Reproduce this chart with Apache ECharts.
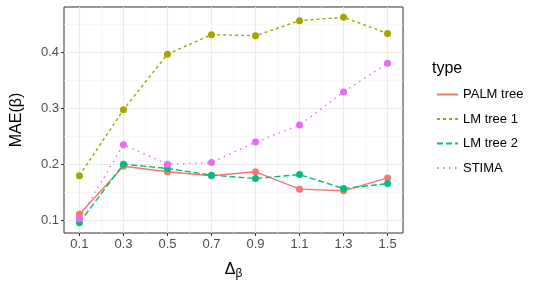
<!DOCTYPE html>
<html><head><meta charset="utf-8">
<script src="https://cdn.jsdelivr.net/npm/echarts@6/dist/echarts.min.js"></script>
<style>html,body{margin:0;padding:0;background:#fff}#c{width:540px;height:291px}</style>
</head><body><div id="c"></div>
<script>
var deltas = [0.1, 0.3, 0.5, 0.7, 0.9, 1.1, 1.3, 1.5];
var palmTree = [0.110, 0.196, 0.186, 0.179, 0.186, 0.155, 0.152, 0.175];
var lmTree1  = [0.179, 0.297, 0.396, 0.431, 0.429, 0.456, 0.462, 0.433];
var lmTree2  = [0.095, 0.1995, 0.192, 0.180, 0.174, 0.181, 0.156, 0.165];
var stima    = [0.102, 0.2345, 0.1995, 0.2025, 0.239, 0.2695, 0.3286, 0.380];
var seriesNames = ['PALM tree', 'LM tree 1', 'LM tree 2', 'STIMA'];
var xTicks = [0.1, 0.3, 0.5, 0.7, 0.9, 1.1, 1.3, 1.5];
var xMinor = [0.2, 0.4, 0.6, 0.8, 1.0, 1.2, 1.4];
var yTicks = [0.1, 0.2, 0.3, 0.4];
var yMinor = [0.15, 0.25, 0.35, 0.45];

var colors = ['#F8766D', '#A3A500', '#00BF7D', '#E76BF3'];
var dashes = ['solid', [3, 3], [6, 3], [1.5, 4.5]];
var allSeries = [palmTree, lmTree1, lmTree2, stima];

var allY = [].concat.apply([], allSeries);
var yLo = Math.min.apply(null, allY), yHi = Math.max.apply(null, allY);
var yPad = (yHi - yLo) * 0.05;
var xLo = Math.min.apply(null, deltas), xHi = Math.max.apply(null, deltas);
var xPad = (xHi - xLo) * 0.05;

var gridLines = [];
xMinor.forEach(function (v) { gridLines.push({ xAxis: v, lineStyle: { color: '#F2F2F2', width: 0.6, type: 'solid' } }); });
yMinor.forEach(function (v) { gridLines.push({ yAxis: v, lineStyle: { color: '#F2F2F2', width: 0.6, type: 'solid' } }); });
xTicks.forEach(function (v) { gridLines.push({ xAxis: v, lineStyle: { color: '#EBEBEB', width: 1.1, type: 'solid' } }); });
yTicks.forEach(function (v) { gridLines.push({ yAxis: v, lineStyle: { color: '#EBEBEB', width: 1.1, type: 'solid' } }); });

var series = [{
  type: 'line', name: '_grid', data: [], z: 0, silent: true,
  markLine: { silent: true, z: 0, symbol: ['none', 'none'], label: { show: false }, animation: false, data: gridLines }
}];
allSeries.forEach(function (vals, i) {
  series.push({
    type: 'line', name: seriesNames[i],
    data: deltas.map(function (d, j) { return [d, vals[j]]; }),
    symbol: 'circle', symbolSize: 7, showSymbol: true,
    itemStyle: { color: colors[i], borderWidth: 0, borderColor: colors[i] },
    lineStyle: { color: colors[i], width: 1.4, type: dashes[i] },
    emphasis: { disabled: true },
    z: 10 + i, animation: false
  });
});

var chart = echarts.init(document.getElementById('c'), null, { renderer: 'canvas' });
chart.setOption({
  animation: false,
  textStyle: { fontFamily: 'Liberation Sans, Arial, sans-serif' },
  title: { text: 'type', left: 427, top: 56, textStyle: { fontSize: 16, fontWeight: 'normal', color: '#000', fontFamily: 'Liberation Sans' } },
  legend: {
    data: seriesNames, orient: 'vertical', left: 431, top: 83,
    itemWidth: 21, itemHeight: 14, itemGap: 11.5,
    itemStyle: { opacity: 0 },
    textStyle: { fontSize: 13, color: '#000', fontFamily: 'Liberation Sans' },
    selectedMode: false
  },
  grid: { left: 64, top: 7, width: 339, height: 226, show: true, borderColor: '#333333', borderWidth: 1, backgroundColor: '#fff' },
  xAxis: {
    type: 'value', min: xLo - xPad, max: xHi + xPad,
    splitLine: { show: false }, axisLine: { show: false },
    axisTick: { show: true, customValues: xTicks, length: 3, lineStyle: { color: '#333' } },
    axisLabel: { customValues: xTicks, color: '#4D4D4D', fontSize: 13, margin: 5, formatter: function (v) { return v.toFixed(1); } },
    name: '{a|Δ}{b|β}', nameLocation: 'middle', nameGap: 27,
    nameTextStyle: { rich: { a: { fontSize: 16, color: '#000', fontFamily: 'Liberation Sans' }, b: { fontSize: 12, color: '#000', verticalAlign: 'bottom', padding: [8, 0, 0, 0], fontFamily: 'Liberation Sans' } } }
  },
  yAxis: {
    type: 'value', min: yLo - yPad, max: yHi + yPad,
    splitLine: { show: false }, axisLine: { show: false },
    axisTick: { show: true, customValues: yTicks, length: 3, lineStyle: { color: '#333' } },
    axisLabel: { customValues: yTicks, color: '#4D4D4D', fontSize: 13, margin: 5, formatter: function (v) { return v.toFixed(1); } },
    name: 'MAE(β)', nameLocation: 'middle', nameGap: 39, nameRotate: 90,
    nameTextStyle: { fontSize: 16, color: '#000', fontFamily: 'Liberation Sans' }
  },
  series: series
});
</script></body></html>
